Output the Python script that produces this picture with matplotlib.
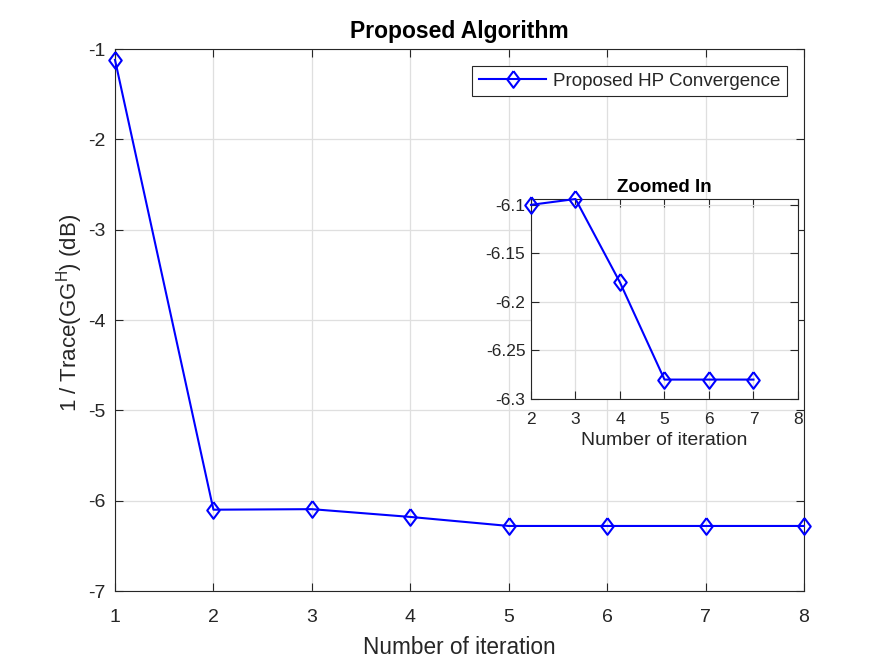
import matplotlib
matplotlib.use('Agg')
import matplotlib.pyplot as plt
import numpy as np

# Convergence data #
iters = [1, 2, 3, 4, 5, 6, 7, 8]
trace_db = [-1.12, -6.10, -6.094, -6.18, -6.28, -6.28, -6.28, -6.28]

zoom_iters = [2, 3, 4, 5, 6, 7]
zoom_db = [-6.10, -6.094, -6.18, -6.28, -6.28, -6.28]

main_xticks = [1, 2, 3, 4, 5, 6, 7, 8]
main_yticks = [-7, -6, -5, -4, -3, -2, -1]
zoom_xticks = [2, 3, 4, 5, 6, 7, 8]
zoom_yticks = [-6.3, -6.25, -6.2, -6.15, -6.1]
zoom_ylabels = ['-6.3', '-6.25', '-6.2', '-6.15', '-6.1']

plt.rcParams['font.family'] = ['Liberation Sans', 'DejaVu Sans']
plt.rcParams['mathtext.fontset'] = 'custom'
plt.rcParams['mathtext.rm'] = 'Liberation Sans'
plt.rcParams['mathtext.it'] = 'Liberation Sans:italic'
plt.rcParams['axes.unicode_minus'] = False

axcol = '#262626'
gridcol = '#dfdfdf'
diamond = [(0, 1), (0.75, 0), (0, -1), (-0.75, 0), (0, 1)]


def style_axes(ax, fs, xpad, ypad):
    ax.grid(True, color=gridcol, linewidth=0.9)
    ax.set_axisbelow(True)
    for s in ax.spines.values():
        s.set_color(axcol)
        s.set_linewidth(0.8)
    ax.tick_params(direction='in', top=True, right=True, length=5.5, width=0.8,
                   colors=axcol, labelsize=fs, labelcolor=axcol)
    ax.tick_params(axis='x', pad=xpad)
    ax.tick_params(axis='y', pad=ypad)


fig = plt.figure(figsize=(8.87, 6.65), dpi=100)

# Main axes #
L, R, T, B = 115, 804, 49, 591
ax = fig.add_axes([L/887, 1 - B/665, (R - L)/887, (B - T)/665])
ax.plot(iters, trace_db, color='#0000ff', linewidth=1.5, marker=diamond,
        markersize=12, markerfacecolor='none', markeredgewidth=1.5,
        label='Proposed HP Convergence', clip_on=False, zorder=3)
ax.set_xlim(1, 8)
ax.set_ylim(-7, -1)
ax.set_xticks(main_xticks)
ax.set_yticks(main_yticks)
style_axes(ax, 14, 13, 7)
ax.set_xlabel('Number of iteration', fontsize=16.3, color=axcol, labelpad=7)
ax.set_ylabel(r'1 / Trace(GG$^{\mathrm{H}}$) (dB)', fontsize=16, color=axcol, labelpad=2)
ax.yaxis.label.set_y(0.513)
ax.set_title('Proposed Algorithm', fontsize=16.5, fontweight='bold', color='black', pad=8)
leg = ax.legend(loc='upper right', fontsize=13.5, fancybox=False, framealpha=1,
                edgecolor=axcol, borderpad=0.35, handlelength=3.6, handletextpad=0.35,
                borderaxespad=0,
                bbox_to_anchor=((787 - L)/(R - L), 1 - (66 - T)/(B - T)))
leg.get_frame().set_linewidth(0.8)
for t in leg.get_texts():
    t.set_color(axcol)

# Inset axes #
iL, iR, iT, iB = 531, 798, 199, 399
ins = fig.add_axes([iL/887, 1 - iB/665, (iR - iL)/887, (iB - iT)/665])
ins.plot(zoom_iters, zoom_db, color='#0000ff', linewidth=1.5, marker=diamond,
         markersize=12, markerfacecolor='none', markeredgewidth=1.5,
         clip_on=False, zorder=3)
ins.set_xlim(2, 8)
ins.set_ylim(-6.3, -6.094)
ins.set_xticks(zoom_xticks)
ins.set_yticks(zoom_yticks)
ins.set_yticklabels(zoom_ylabels)
style_axes(ins, 12.5, 9, 4)
ins.set_xlabel('Number of iteration', fontsize=14, color=axcol, labelpad=4)
ins.set_title('Zoomed In', fontsize=13.5, fontweight='bold', color='black', pad=5)

fig.savefig('out.png', dpi=100)
